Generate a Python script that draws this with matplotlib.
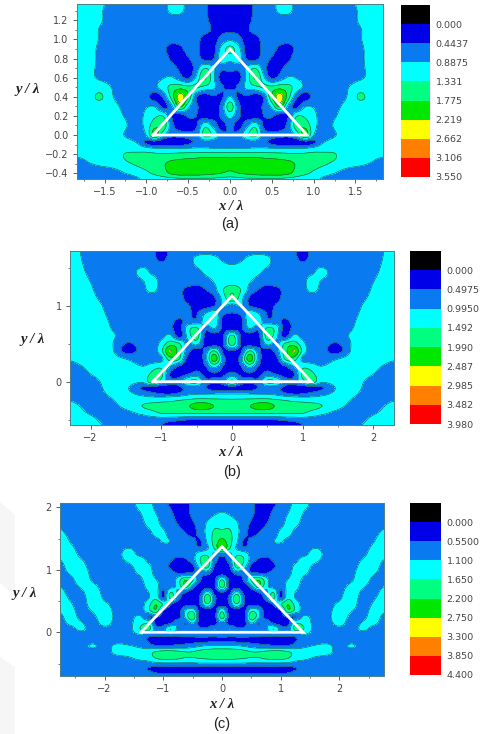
import numpy as np
import matplotlib
matplotlib.use("Agg")
from matplotlib import pyplot as plt
from matplotlib.patches import Polygon
from matplotlib.ticker import MultipleLocator

W, H = 491, 734

band_colors = ["#000000", "#0000e8", "#0a7af0", "#00ffff", "#00ff80",
               "#00e800", "#ffff00", "#ff8000", "#ff0000"]

# field values are in units of one contour step, x >= 0 only (pattern is symmetric)
step_a = 0.4437
labels_a = ["0.000", "0.4437", "0.8875", "1.331", "1.775", "2.219", "2.662", "3.106", "3.550"]
x_a = [0, .1, .2, .3, .4, .5, .6, .7, .8, .9, 1.0, 1.1, 1.25, 1.4, 1.55, 1.7, 1.83]
y_a = [1.37, 1.3, 1.2, 1.1, 1.0, .9, .8, .7, .6, .5, .4, .3, .2, .1, 0, -.08, -.15, -.22, -.3, -.4, -.46]
field_a = [
    [.5, .5, .6, 1.2, 1.5, 1.7, 2.3, 2.3, 1.7, 1.5, 1.5, 1.5, 1.5, 1.6, 2.2, 2.6, 2.7],
    [.5, .5, .6, 1.2, 1.5, 1.7, 2.2, 2.2, 1.7, 1.5, 1.5, 1.5, 1.5, 1.6, 2.1, 2.6, 2.7],
    [.5, .5, .7, 1.2, 1.5, 1.5, 1.6, 1.6, 1.5, 1.5, 1.4, 1.4, 1.4, 1.6, 2.1, 2.6, 2.7],
    [.8, .8, .9, 1.3, 1.4, 1.4, 1.4, 1.4, 1.4, 1.4, 1.4, 1.4, 1.4, 1.5, 1.9, 2.5, 2.7],
    [1.8, 1.3, .6, .6, 1.3, 1.4, 1.4, 1.4, 1.4, 1.4, 1.4, 1.4, 1.4, 1.5, 1.9, 2.5, 2.7],
    [3.4, 2.4, .6, .4, 1.3, 1.4, .7, .5, 1.3, 1.5, 1.5, 1.5, 1.5, 1.6, 1.8, 2.4, 2.7],
    [2.2, 2.6, .8, .6, 1.4, .9, .3, .8, 1.5, 1.5, 1.5, 1.5, 1.5, 1.6, 1.8, 2.4, 2.7],
    [1.5, 1.3, 2.2, 3.0, 1.5, .4, .8, 1.4, 1.5, 1.5, 1.5, 1.5, 1.5, 1.6, 1.8, 2.3, 2.7],
    [.4, .5, 2.2, 4.2, 2.2, .7, 1.4, 2.1, 1.9, 1.5, 1.5, 1.5, 1.5, 1.5, 1.8, 2.3, 2.7],
    [.7, 1.2, 2.3, 2.7, 3.2, 3.3, 3.6, 3.3, 2.6, 1.8, 1.5, 1.5, 1.5, 1.9, 2.6, 2.4, 2.7],
    [2.1, .7, .9, .3, .9, 4.0, 5.5, 3.4, 1.1, .4, 1.3, 1.5, 1.5, 2.0, 3.2, 2.6, 2.7],
    [3.7, 1.3, .3, .3, 1.2, 2.2, 4.4, 1.6, .6, 2.0, 1.9, 1.5, 1.7, 2.3, 2.6, 2.6, 2.7],
    [2.4, 1.2, .6, .3, 1.0, 1.2, .2, 1.0, 3.0, 2.8, 2.3, 1.6, 1.9, 2.5, 2.7, 2.7, 2.7],
    [1.4, .5, 1.6, 2.8, .8, .4, .4, 1.4, 3.8, 3.6, 2.4, 1.6, 2.1, 2.7, 2.7, 2.7, 2.7],
    [1.0, 1.4, 2.8, 3.4, 1.5, 1.3, 1.3, 1.3, 2.2, 4.5, 2.0, 1.5, 1.9, 2.5, 2.7, 2.7, 2.7],
    [1.2, 1.3, 1.4, 1.4, 1.2, .7, .3, .2, .2, .3, .7, 1.9, 2.4, 2.6, 2.7, 2.7, 2.7],
    [2.2, 2.2, 2.2, 2.3, 2.3, 2.3, 2.3, 2.3, 2.3, 2.4, 2.6, 2.7, 2.8, 2.7, 2.7, 2.7, 2.7],
    [3.8, 3.8, 3.8, 3.8, 3.7, 3.6, 3.5, 3.4, 3.3, 3.3, 3.3, 3.3, 3.1, 2.5, 2.4, 2.3, 2.1],
    [4.3, 4.5, 4.6, 4.6, 4.6, 4.6, 4.5, 4.3, 3.9, 3.6, 3.4, 3.2, 2.8, 2.4, 2.2, 1.9, 1.4],
    [3.8, 4.0, 4.2, 4.4, 4.5, 4.5, 4.5, 4.2, 3.6, 3.2, 2.8, 2.4, 2.0, 1.5, 1.3, 1.3, 1.4],
    [2.6, 2.7, 2.8, 2.8, 2.8, 2.8, 2.8, 2.7, 2.6, 2.4, 2.2, 1.9, 1.5, 1.2, 1.2, 1.2, 1.3],
]

step_b = 0.4975
labels_b = ["0.000", "0.4975", "0.9950", "1.492", "1.990", "2.487", "2.985", "3.482", "3.980"]
x_b = [0, .125, .25, .375, .5, .625, .75, .875, 1, 1.125, 1.25, 1.5, 1.75, 2, 2.29]
y_b = [1.72, 1.6, 1.45, 1.3, 1.2, 1.1, 1, .9, .8, .7, .6, .5, .4, .3, .2, .1, 0, -.08, -.15, -.22, -.32, -.42, -.5, -.57]
field_b = [
    [1.6, 1.6, 1.7, 1.7, 1.6, 1.5, 1.4, 1.1, .7, 1.2, 1.4, 1.5, 1.6, 1.7, 2.3],
    [1.7, 1.9, 2.3, 2.5, 2.3, 1.6, 1.5, 1.2, .9, 1.2, 1.4, 1.5, 1.6, 1.7, 2.4],
    [2.5, 2.5, 2.4, 2.2, 1.7, 1.5, 1.4, 1.4, 1.5, 1.7, 2.3, 1.5, 1.6, 1.8, 2.6],
    [2.7, 2.5, 2.0, 1.5, 1.2, 1.4, 1.4, 1.4, 1.6, 2.6, 1.9, 1.5, 1.6, 2.0, 2.7],
    [3.8, 3.0, 1.6, .9, .5, .6, 1.3, 1.4, 1.6, 2.2, 1.8, 1.5, 1.6, 2.1, 2.7],
    [4.0, 2.4, .8, .4, .4, .7, 1.3, 1.4, 1.5, 1.6, 1.5, 1.5, 1.7, 2.2, 2.7],
    [1.4, 2.2, .9, .5, .6, 1.1, 1.3, 1.4, 1.4, 1.4, 1.4, 1.5, 1.8, 2.4, 2.7],
    [1.0, 1.2, 2.6, 2.0, .9, 1.2, 1.4, 1.4, 1.4, 1.4, 1.4, 1.5, 1.9, 2.5, 2.7],
    [.4, .5, 2.8, 2.5, 1.2, 1.3, .8, 1.3, 1.4, 1.4, 1.4, 1.5, 2.0, 2.6, 2.7],
    [.5, .7, 2.1, 1.2, 3.3, 2.6, .5, 1.3, 1.4, 1.4, 1.4, 1.5, 2.1, 2.7, 2.7],
    [3.5, .8, .4, .6, 3.6, 2.3, .5, 2.3, 1.6, 1.4, 1.4, 1.6, 2.3, 2.7, 2.7],
    [3.7, .9, .3, .5, 2.4, 1.6, 3.2, 3.5, 2.3, 1.4, 1.4, .9, 2.4, 2.7, 2.7],
    [.8, .7, 3.3, 1.4, .3, 1.4, 3.5, 5.2, 2.6, 1.5, 1.4, .6, 2.6, 2.7, 2.7],
    [.3, 1.5, 4.8, 1.5, .3, .5, 3.2, 3.5, 1.6, 1.4, 1.5, 2.0, 2.6, 2.5, 2.1],
    [.3, .9, 2.3, .9, .7, .5, .8, 2.0, 2.8, 2.5, 2.0, 2.4, 2.6, 2.2, 1.7],
    [1.4, .7, .9, .6, 1.4, .9, .5, .7, 3.4, 3.3, 2.3, 2.6, 2.5, 2.0, 1.5],
    [3.3, 1.5, 1.3, 1.3, 3.3, 3.0, 1.5, 1.5, 2.5, 3.8, 2.2, 2.4, 2.3, 1.6, 1.3],
    [.4, .4, .4, 1.0, 1.4, 1.3, .7, .4, .3, .3, .7, 2.2, 2.2, 1.5, 1.2],
    [1.8, 1.8, 1.8, 1.8, 1.8, 1.6, 1.0, .7, .8, 1.2, 1.6, 2.2, 2.1, 1.4, 1.2],
    [2.9, 2.9, 2.9, 2.9, 2.9, 2.8, 2.7, 2.5, 2.4, 2.3, 2.3, 2.3, 1.9, 1.3, 1.8],
    [3.6, 3.8, 4.0, 4.5, 4.5, 3.9, 3.5, 3.4, 3.4, 3.3, 3.1, 2.3, 1.6, 1.5, 2.4],
    [3.0, 3.0, 3.0, 3.0, 3.0, 3.0, 3.0, 3.0, 3.0, 2.6, 2.2, 1.6, 1.4, 1.9, 2.6],
    [.9, .9, .9, .9, .9, 1.0, 1.2, 1.3, 1.4, 1.4, 1.4, 1.5, 1.5, 2.3, 2.7],
    [.3, .3, .3, .3, .4, .4, .5, .7, 1.0, 1.3, 1.4, 1.5, 1.8, 2.4, 2.7],
]

step_c = 0.55
labels_c = ["0.000", "0.5500", "1.100", "1.650", "2.200", "2.750", "3.300", "3.850", "4.400"]
x_c = [0, .125, .25, .375, .5, .625, .75, .875, 1, 1.125, 1.25, 1.4, 1.6, 1.8, 2, 2.2, 2.4, 2.6, 2.76]
y_c = [2.07, 1.9, 1.75, 1.6, 1.45, 1.35, 1.25, 1.15, 1.05, .95, .85, .75, .65, .55, .45, .35, .25, .15, .05,
       -.05, -.13, -.22, -.32, -.42, -.5, -.58, -.64, -.7]
field_c = [
    [1.5, 1.5, 1.5, 1.5, 1.2, .7, .4, .8, 1.2, 1.6, 2.3, 2.3, 1.6, 1.5, 1.5, 1.5, 1.5, 1.5, 1.5],
    [2.1, 1.9, 1.6, 1.5, 1.2, .7, .6, 1.2, 1.6, 2.0, 2.5, 1.9, 1.5, 1.5, 1.5, 1.5, 1.5, 1.5, 1.5],
    [2.6, 2.6, 2.1, 1.4, .9, .5, .9, 1.4, 1.6, 2.3, 2.3, 1.6, 1.5, 1.5, 1.5, 1.5, 1.5, 1.5, 1.7],
    [3.2, 3.2, 2.3, 1.4, .7, 1.0, 1.4, 1.5, 2.2, 2.4, 1.7, 1.5, 1.5, 1.5, 1.5, 1.5, 1.5, 1.7, 2.2],
    [4.4, 3.4, 2.2, .8, 1.3, 1.4, 1.5, 2.0, 2.1, 1.6, 1.5, 1.5, 1.5, 1.5, 1.5, 1.5, 1.5, 2.0, 2.7],
    [5.0, 3.2, 1.8, 1.1, 1.4, 1.5, 1.5, 1.5, 1.5, 1.5, 1.5, 1.6, 2.0, 1.5, 1.5, 1.5, 1.6, 2.3, 2.8],
    [1.3, 1.6, 2.8, 2.6, 1.6, 1.4, 1.5, 1.5, 1.5, 1.5, 1.5, 1.7, 2.5, 1.5, 1.5, 1.5, 1.7, 2.6, 2.5],
    [.9, 1.3, 3.6, 3.0, 1.5, .8, .4, 1.1, 1.4, 1.5, 1.7, 2.6, 2.2, 1.5, 1.5, 1.5, 2.1, 2.7, 1.9],
    [.9, .7, 3.4, 2.4, .7, .3, .3, .8, 1.4, 1.4, 2.3, 2.5, 1.6, 1.5, 1.5, 1.5, 2.4, 2.5, 1.5],
    [.3, .4, 1.4, 1.2, 1.1, .9, .9, 1.3, 1.4, 1.4, 2.6, 2.2, 1.5, 1.5, 1.5, 1.6, 2.7, 2.1, 1.5],
    [3.0, .6, .4, 1.2, 3.2, 3.8, 2.4, 1.2, 1.4, 2.0, 2.6, 1.7, 1.5, 1.5, 1.5, 1.8, 2.6, 1.6, 1.5],
    [3.8, .8, .3, .4, 1.8, 4.0, 2.4, 1.3, 1.4, 2.3, 2.4, 1.5, 1.5, 1.5, 1.5, 2.2, 2.2, 1.5, 1.9],
    [1.2, .5, 2.2, .5, .4, 1.2, 1.7, 3.0, .7, 2.5, 2.0, 1.5, 1.5, 1.5, 1.6, 2.6, 1.8, 1.6, 2.4],
    [.3, 1.3, 4.0, 1.1, .3, .4, 1.4, 3.4, .8, 2.8, 1.9, 1.5, 1.5, 1.6, 1.8, 2.7, 1.5, 1.9, 2.6],
    [.3, 1.0, 3.0, 1.0, .6, .6, .3, 1.0, 2.9, 4.0, 2.6, 1.5, 1.5, 1.6, 2.2, 2.5, 1.5, 2.2, 2.6],
    [2.8, .4, .3, .4, 2.7, 2.1, .4, .3, .9, 3.9, 2.7, 1.5, 1.5, 1.6, 2.6, 2.1, 1.6, 2.4, 2.2],
    [3.7, .5, .3, .4, 4.0, 2.2, .4, .2, .3, 1.2, .8, 2.2, 1.5, 1.7, 2.7, 1.7, 1.7, 2.5, 1.7],
    [1.8, .4, .3, .5, 2.1, .9, 2.0, .7, .5, .6, 2.8, 2.6, 1.6, 1.6, 2.4, 1.5, 2.1, 2.2, 1.5],
    [1.1, 2.1, 1.2, 1.2, 1.1, 1.3, 1.6, 3.2, 1.6, 1.5, 3.4, 3.0, 1.5, 1.5, 1.7, 1.5, 2.2, 1.6, 1.5],
    [1.2, 1.2, 1.2, 1.2, 1.2, 1.2, 1.2, 1.2, 1.2, 1.2, 1.2, 1.8, 1.5, 1.5, 1.5, 1.5, 1.5, 1.5, 1.5],
    [.8, .8, .7, .7, .6, .6, .5, .5, .4, .4, .9, 1.4, 1.5, 1.5, 1.5, 1.6, 1.5, 1.5, 1.5],
    [2.2, 2.2, 2.1, 1.9, 1.6, 1.4, 1.3, 1.1, 1.0, 1.1, 1.4, 1.8, 2.1, 2.3, 1.5, 2.2, 1.5, 1.5, 1.5],
    [3.7, 3.7, 3.6, 3.4, 3.1, 3.1, 3.3, 3.5, 3.5, 3.2, 2.7, 2.5, 2.4, 2.3, 1.5, 1.5, 1.5, 1.5, 1.5],
    [3.2, 3.2, 3.1, 3.0, 2.9, 2.9, 3.1, 3.2, 3.2, 3.0, 2.4, 2.2, 1.8, 1.6, 1.5, 1.5, 1.5, 1.5, 1.5],
    [1.9, 1.9, 1.9, 1.9, 1.8, 1.8, 1.8, 1.8, 1.8, 1.7, 1.6, 1.5, 1.5, 1.5, 1.5, 1.5, 1.5, 1.5, 1.5],
    [.4, .4, .4, .4, .4, .4, .4, .4, .5, .6, .9, 1.4, 1.5, 1.5, 1.5, 1.5, 1.5, 1.5, 1.5],
    [.7, .7, .7, .7, .7, .7, .7, .7, .8, .9, 1.2, 1.4, 1.5, 1.5, 1.5, 1.5, 1.5, 1.5, 1.5],
    [1.4, 1.4, 1.4, 1.4, 1.4, 1.4, 1.4, 1.4, 1.4, 1.4, 1.4, 1.5, 1.5, 1.5, 1.5, 1.5, 1.5, 1.5, 1.5],
]

# triangle half base / apex height
tri_a = (0.92, 0.90)
tri_b = (1.12, 1.13)
tri_c = (1.38, 1.37)

FINE = 8  # sub-cells per read cell, only to round the contour outlines


def round_axis(z, axis):
    # Catmull-Rom along one axis so contours come out curved, not polygonal
    z = np.moveaxis(z, axis, 0)
    n = z.shape[0]
    pos = np.linspace(0, n - 1, (n - 1) * FINE + 1)
    i = np.minimum(pos.astype(int), n - 2)
    t = (pos - i).reshape((-1,) + (1,) * (z.ndim - 1))
    p0, p1 = z[np.maximum(i - 1, 0)], z[i]
    p2, p3 = z[i + 1], z[np.minimum(i + 2, n - 1)]
    out = 0.5 * (2 * p1 + (p2 - p0) * t + (2 * p0 - 5 * p1 + 4 * p2 - p3) * t ** 2
                 + (3 * p1 - p0 - 3 * p2 + p3) * t ** 3)
    return np.moveaxis(out, 0, axis)


def soften(z, sigma):
    r = int(3 * sigma)
    kernel = np.exp(-0.5 * (np.arange(-r, r + 1) / sigma) ** 2)
    kernel /= kernel.sum()
    for axis in (0, 1):
        pad = [(r, r) if a == axis else (0, 0) for a in (0, 1)]
        padded = np.pad(z, pad, mode="edge")
        z = np.apply_along_axis(lambda v: np.convolve(v, kernel, mode="valid"), axis, padded)
    return z


def px_axes(fig, left, top, right, bottom):
    return fig.add_axes([left / W, 1 - bottom / H, (right - left) / W, (bottom - top) / H])


def draw_panel(fig, box, cbox, xs, ys, field, step, labels, triangle, xmaj, xmin, ymaj, ymin, yfmt):
    ax = px_axes(fig, *box)
    xs = np.array(xs, dtype=float)
    ys = np.array(ys, dtype=float)
    field = np.array(field)
    # mirror about x = 0
    full_x = np.concatenate([-xs[:0:-1], xs])
    full_z = np.hstack([field[:, :0:-1], field]) * step

    gx = np.interp(np.linspace(0, len(full_x) - 1, (len(full_x) - 1) * FINE + 1), np.arange(len(full_x)), full_x)
    gy = np.interp(np.linspace(0, len(ys) - 1, (len(ys) - 1) * FINE + 1), np.arange(len(ys)), ys)
    gz = soften(round_axis(round_axis(full_z, 0), 1), FINE * 0.16)
    gz = np.clip(gz, 0.03 * step, 7.9 * step)

    levels = step * np.arange(-1, 9)
    cs = ax.contourf(gx, gy, gz, levels=levels, colors=band_colors)
    ax.contour(gx, gy, gz, levels=levels[1:], colors="#1f5a60", linewidths=0.45)

    hb, ht = triangle
    ax.plot([-hb, 0, hb, -hb], [0, ht, 0, 0], color="white", lw=2.0, solid_joinstyle="miter")

    ax.set_xlim(full_x[0], full_x[-1])
    ax.set_ylim(ys[-1], ys[0])
    ax.xaxis.set_major_locator(MultipleLocator(xmaj))
    ax.xaxis.set_minor_locator(MultipleLocator(xmin))
    ax.yaxis.set_major_locator(MultipleLocator(ymaj))
    ax.yaxis.set_minor_locator(MultipleLocator(ymin))
    ax.xaxis.set_major_formatter(lambda v, p: (yfmt[0] % v).replace("-", "\u2212"))
    ax.yaxis.set_major_formatter(lambda v, p: (yfmt[1] % v).replace("-", "\u2212"))
    ax.tick_params(which="major", length=3, width=0.6, labelsize=7, colors="#444444", pad=3)
    ax.tick_params(which="minor", length=1.6, width=0.5, colors="#444444")
    for s in ax.spines.values():
        s.set_color("#4f7f86")
        s.set_linewidth(0.7)

    cax = px_axes(fig, *cbox)
    cb = fig.colorbar(cs, cax=cax)
    cb.outline.set_visible(False)
    cax.invert_yaxis()
    cb.set_ticks(levels[1:])
    cb.set_ticklabels(labels)
    cax.tick_params(length=0, labelsize=6.8, labelcolor="#444444", pad=4)
    return ax


def label(fig, x, y, text, **kw):
    fig.text(x / W, 1 - y / H, text, ha="center", va="center", **kw)


fig = plt.figure(figsize=(W / 100, H / 100), dpi=100)

# faint watermark shapes on the left of the lower panel
fig.add_artist(Polygon([(0, 1 - 502 / H), (15 / W, 1 - 515 / H), (15 / W, 1 - 596 / H), (0, 1 - 583 / H)],
                       closed=True, transform=fig.transFigure, color="#f6f6f6", lw=0))
fig.add_artist(Polygon([(0, 1 - 657 / H), (15 / W, 1 - 667 / H), (15 / W, 0), (0, 0)],
                       closed=True, transform=fig.transFigure, color="#f6f6f6", lw=0))

draw_panel(fig, (77, 4, 383, 179), (401, 5, 430, 177), x_a, y_a, field_a, step_a, labels_a, tri_a,
           .5, .25, .2, .1, ("%.1f", "%.1f"))
draw_panel(fig, (70, 251, 394, 425), (410, 251, 441, 424), x_b, y_b, field_b, step_b, labels_b, tri_b,
           1, .5, 1, .5, ("%.0f", "%.0f"))
draw_panel(fig, (60, 503, 384, 676), (410, 503, 441, 675), x_c, y_c, field_c, step_c, labels_c, tri_c,
           1, .5, 1, .5, ("%.0f", "%.0f"))

lab = dict(family="Liberation Serif", style="italic", weight="bold", fontsize=10.5, color="#222222")
cap = dict(family="Liberation Sans", fontsize=10.5, color="#222222")
label(fig, 28, 89, "y / \u03bb", **lab)
label(fig, 231, 206, "x / \u03bb", **lab)
label(fig, 230, 224, "(a)", **cap)
label(fig, 33, 340, "y / \u03bb", **lab)
label(fig, 231, 453, "x / \u03bb", **lab)
label(fig, 232, 472, "(b)", **cap)
label(fig, 25, 593, "y / \u03bb", **lab)
label(fig, 222, 705, "x / \u03bb", **lab)
label(fig, 222, 724, "(c)", **cap)

fig.savefig("out.png", dpi=100)
